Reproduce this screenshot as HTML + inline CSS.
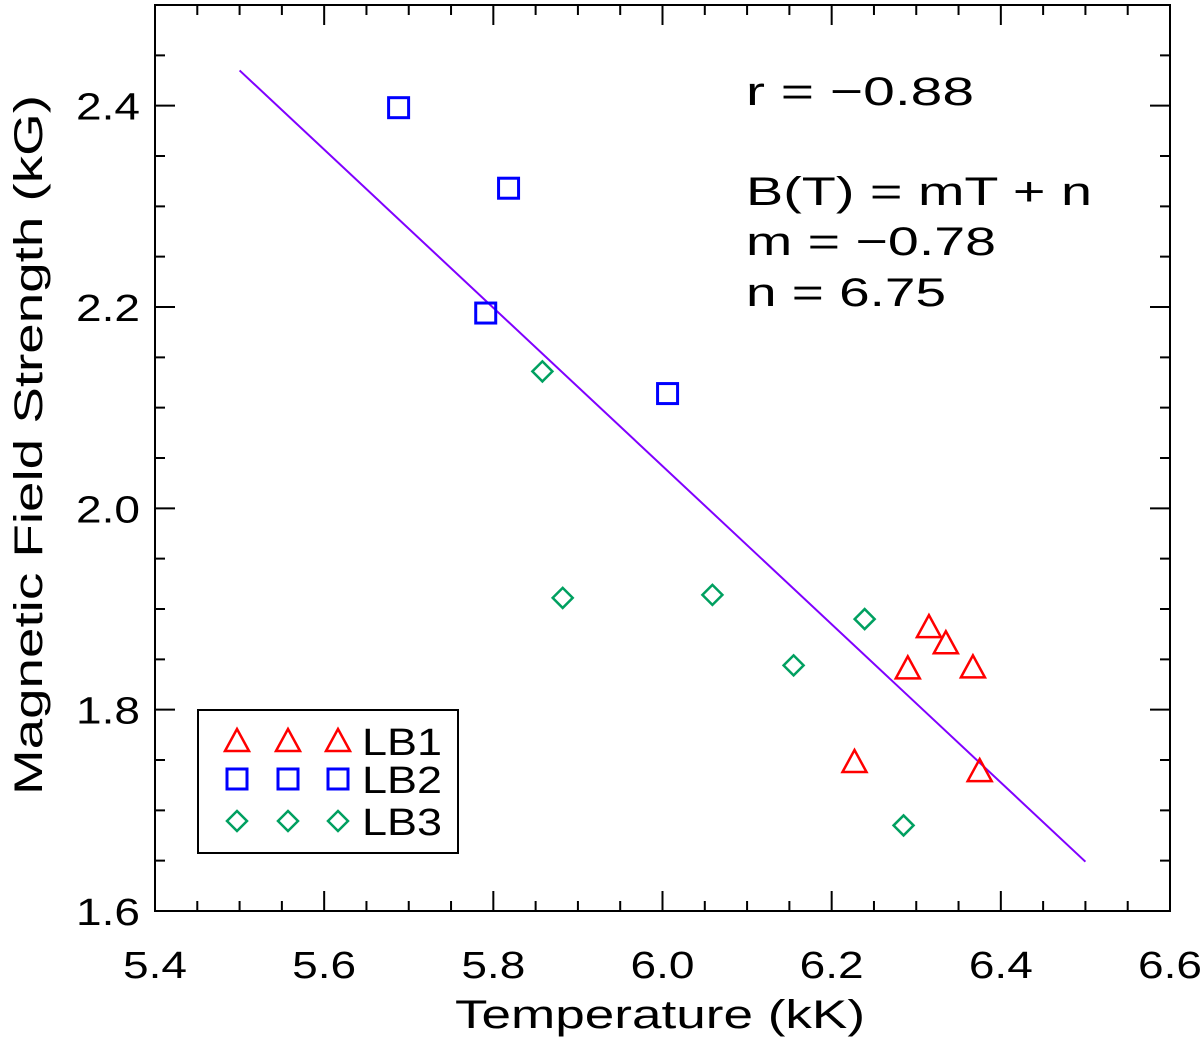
<!DOCTYPE html>
<html><head><meta charset="utf-8"><style>
body{margin:0;background:#fff}
svg text{font-family:"Liberation Sans",sans-serif;fill:#000}
</style></head><body>
<svg id="chart" width="1200" height="1041" viewBox="0 0 1200 1041">
<g id="axes"></g><g id="marks"></g>
</svg>
<script>
const xTicks=[5.4,5.6,5.8,6.0,6.2,6.4,6.6];
const xTickLabels=["5.4","5.6","5.8","6.0","6.2","6.4","6.6"];
const yTicks=[1.6,1.8,2.0,2.2,2.4];
const yTickLabels=["1.6","1.8","2.0","2.2","2.4"];
const lb1T=[6.315,6.335,6.290,6.367,6.227,6.375];
const lb1B=[1.882,1.866,1.841,1.842,1.748,1.739];
const lb2T=[5.688,5.818,5.791,6.006];
const lb2B=[2.398,2.318,2.194,2.114];
const lb3T=[5.858,5.882,6.059,6.155,6.239,6.285];
const lb3B=[2.136,1.911,1.914,1.844,1.890,1.685];
const fitM=-0.786, fitN=6.758;
const fitRange=[5.5,6.5];

const NS="http://www.w3.org/2000/svg";
const L=155,R=1170,T=5,B=911;
const xs=v=>L+(v-5.4)/1.2*(R-L);
const ys=v=>B-(v-1.6)/0.9*(B-T);
const ax=document.getElementById('axes'),mk=document.getElementById('marks');
function el(tag,attrs,parent){const e=document.createElementNS(NS,tag);for(const k in attrs)e.setAttribute(k,attrs[k]);parent.appendChild(e);return e;}

const frame=el('rect',{x:L,y:T,width:R-L,height:B-T,fill:'none',stroke:'#000','stroke-width':2},ax);


for(let v=5.4;v<=6.6001;v+=0.05){
  const x=xs(v);const major=Math.abs(v*5-Math.round(v*5))<1e-6;const len=major?20:10;
  const t=el('path',{d:`M${x},${B}V${B-len}M${x},${T}V${T+len}`,stroke:'#000','stroke-width':2},ax);
  
  
}
for(let v=1.6;v<=2.5001;v+=0.05){
  const y=ys(v);const major=Math.abs(v*5-Math.round(v*5))<1e-6;const len=major?20:10;
  const t=el('path',{d:`M${L},${y}H${L+len}M${R},${y}H${R-len}`,stroke:'#000','stroke-width':2},ax);
  
  
}
xTicks.forEach((v,i)=>{const t=el('text',{x:xs(v),y:978,'font-size':38,'text-anchor':'middle',textLength:64,lengthAdjust:'spacingAndGlyphs'},ax);t.textContent=xTickLabels[i];
  
  });
yTicks.forEach((v,i)=>{const t=el('text',{x:140,y:ys(v)+14,'font-size':38,'text-anchor':'end',textLength:64,lengthAdjust:'spacingAndGlyphs'},ax);t.textContent=yTickLabels[i];
  
  });
let t=el('text',{x:455,y:1028,'font-size':40,textLength:410,lengthAdjust:'spacingAndGlyphs'},ax);t.textContent='Temperature (kK)';


t=el('text',{x:0,y:0,'font-size':40,textLength:700,lengthAdjust:'spacingAndGlyphs',transform:`translate(42,795) rotate(-90)`},ax);t.textContent='Magnetic Field Strength (kG)';



const fit=el('line',{x1:xs(fitRange[0]),y1:ys(fitM*fitRange[0]+fitN),x2:xs(fitRange[1]),y2:ys(fitM*fitRange[1]+fitN),stroke:'#8000ff','stroke-width':2},mk);



function tri(x,y,p){const e=el('path',{d:`M${x-12},${y+10}L${x},${y-12}L${x+12},${y+10}Z`,fill:'none',stroke:'#ff0000','stroke-width':2.5},p);return e;}
function sq(x,y,p){return el('rect',{x:x-10,y:y-10,width:20,height:20,fill:'none',stroke:'#0000ff','stroke-width':3},p);}
function dia(x,y,p){return el('path',{d:`M${x},${y-10}L${x+10},${y}L${x},${y+10}L${x-10},${y}Z`,fill:'none',stroke:'#00a060','stroke-width':2.5},p);}
lb1T.forEach((v,i)=>{const e=tri(xs(v),ys(lb1B[i]),mk);
  });
lb2T.forEach((v,i)=>{const e=sq(xs(v),ys(lb2B[i]),mk);
  });
lb3T.forEach((v,i)=>{const e=dia(xs(v),ys(lb3B[i]),mk);
  });

const lg=el('g',{},mk);


el('rect',{x:198,y:710,width:260,height:143,fill:'#fff',stroke:'#000','stroke-width':2},lg);
[[tri,'LB1',741],[sq,'LB2',779],[dia,'LB3',821]].forEach(([f,name,y])=>{
  [237,288,338].forEach(x=>f(x,y,lg));
  const tt=el('text',{x:362,y:y+14,'font-size':38,textLength:80,lengthAdjust:'spacingAndGlyphs'},lg);tt.textContent=name;
  
  
});
const ann=[['r = −0.88',105,228],['B(T) = mT + n',205,346],['m = −0.78',255,250],['n = 6.75',306,200]];
ann.forEach(([s,y,w])=>{const tt=el('text',{x:746,y:y,'font-size':40,'xml:space':'preserve',textLength:w,lengthAdjust:'spacingAndGlyphs'},mk);tt.textContent=s;
  
  });
</script>
</body></html>
